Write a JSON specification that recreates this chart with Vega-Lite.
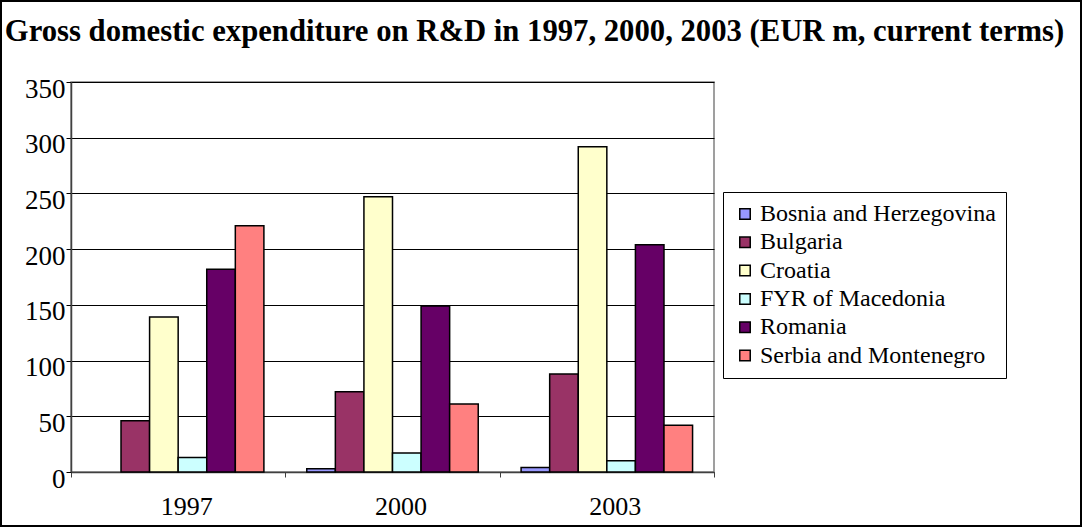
{
  "$schema": "https://vega.github.io/schema/vega-lite/v6.json",
  "width": 643,
  "height": 390,
  "autosize": "none",
  "padding": {"left": 71, "top": 82, "right": 369, "bottom": 57},
  "background": "white",
  "title": {
    "text": "Gross domestic expenditure on R&D in 1997, 2000, 2003 (EUR m, current terms)",
    "font": "Liberation Serif",
    "fontSize": 30.7,
    "fontWeight": "bold",
    "color": "black",
    "baseline": "alphabetic",
    "anchor": "middle",
    "frame": "group",
    "dx": 142,
    "offset": -70.5
  },
  "data": {
    "values": [
      {"Year": "1997", "Country": "Bulgaria", "Value": 46},
      {"Year": "1997", "Country": "Croatia", "Value": 139},
      {"Year": "1997", "Country": "FYR of Macedonia", "Value": 13},
      {"Year": "1997", "Country": "Romania", "Value": 182},
      {"Year": "1997", "Country": "Serbia and Montenegro", "Value": 221},
      {"Year": "2000", "Country": "Bosnia and Herzegovina", "Value": 3},
      {"Year": "2000", "Country": "Bulgaria", "Value": 72},
      {"Year": "2000", "Country": "Croatia", "Value": 247},
      {"Year": "2000", "Country": "FYR of Macedonia", "Value": 17},
      {"Year": "2000", "Country": "Romania", "Value": 149},
      {"Year": "2000", "Country": "Serbia and Montenegro", "Value": 61},
      {"Year": "2003", "Country": "Bosnia and Herzegovina", "Value": 4},
      {"Year": "2003", "Country": "Bulgaria", "Value": 88},
      {"Year": "2003", "Country": "Croatia", "Value": 292},
      {"Year": "2003", "Country": "FYR of Macedonia", "Value": 10},
      {"Year": "2003", "Country": "Romania", "Value": 204},
      {"Year": "2003", "Country": "Serbia and Montenegro", "Value": 42}
    ]
  },
  "layer": [
    {
      "mark": {"type": "bar", "stroke": "black", "strokeWidth": 1.5},
      "encoding": {
        "x": {
          "field": "Year",
          "type": "nominal",
          "scale": {"paddingInner": 0, "paddingOuter": 0},
          "axis": {
            "title": null,
            "labelAngle": 0,
            "labelFont": "Liberation Serif",
            "labelFontSize": 26,
            "labelColor": "black",
            "labelPadding": 16,
            "labelOffset": 8,
            "tickBand": "extent",
            "tickSize": 5,
            "tickColor": "#404040",
            "domainColor": "#404040",
            "domainWidth": 1.5,
            "grid": false
          }
        },
        "xOffset": {
          "field": "Country",
          "type": "nominal",
          "scale": {
            "domain": ["Bosnia and Herzegovina", "Bulgaria", "Croatia", "FYR of Macedonia", "Romania", "Serbia and Montenegro"],
            "paddingInner": 0,
            "paddingOuter": 0.75
          }
        },
        "y": {
          "field": "Value",
          "type": "quantitative",
          "scale": {"domain": [0, 350], "nice": false},
          "axis": {
            "title": null,
            "values": [0, 50, 100, 150, 200, 250, 300, 350],
            "labelFont": "Liberation Serif",
            "labelFontSize": 27,
            "labelColor": "black",
            "labelPadding": 1,
            "labelOffset": 7,
            "tickSize": 5,
            "tickColor": "black",
            "domainColor": "#404040",
            "domainWidth": 1.5,
            "grid": true,
            "gridColor": "black",
            "gridWidth": 1,
            "gridOpacity": 1
          }
        },
        "color": {
          "field": "Country",
          "type": "nominal",
          "scale": {
            "domain": ["Bosnia and Herzegovina", "Bulgaria", "Croatia", "FYR of Macedonia", "Romania", "Serbia and Montenegro"],
            "range": ["#9999FF", "#993366", "#FFFFCC", "#CCFFFF", "#660066", "#FF8080"]
          },
          "legend": {
            "title": null,
            "orient": "none",
            "legendX": 652,
            "legendY": 110,
            "direction": "vertical",
            "fillColor": "white",
            "strokeColor": "black",
            "padding": 10,
            "rowPadding": 4.3,
            "symbolType": "square",
            "symbolSize": 110,
            "symbolStrokeColor": "black",
            "symbolStrokeWidth": 1.5,
            "labelFont": "Liberation Serif",
            "labelFontSize": 24,
            "labelColor": "black",
            "labelOffset": 3,
            "labelLimit": 400
          }
        }
      }
    },
    {
      "mark": {"type": "point", "opacity": 0},
      "encoding": {
        "stroke": {
          "field": "Value",
          "type": "quantitative",
          "scale": {"domain": [0, 350], "range": ["transparent", "transparent"]},
          "legend": {
            "type": "gradient",
            "title": null,
            "orient": "none",
            "direction": "vertical",
            "legendX": -70,
            "legendY": -81,
            "padding": 0,
            "gradientLength": 525,
            "gradientThickness": 1080,
            "gradientStrokeColor": "black",
            "gradientStrokeWidth": 2,
            "labelExpr": "''",
            "labelFontSize": 1,
            "labelOpacity": 0
          }
        }
      }
    }
  ],
  "resolve": {"scale": {"color": "independent", "stroke": "independent"}},
  "config": {
    "view": {"fill": "#C0C0C0", "stroke": "#808080", "strokeWidth": 1.5},
    "font": "Liberation Serif"
  }
}
